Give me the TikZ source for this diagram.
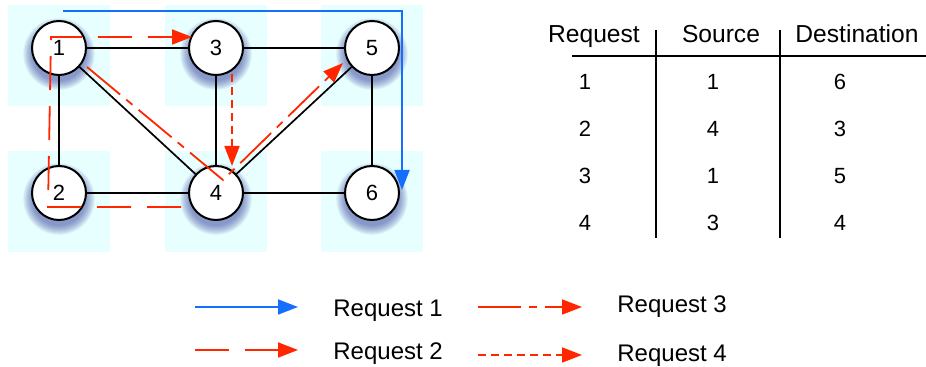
\documentclass[tikz,border=0pt]{standalone}
\usepackage{fontspec}
\setmainfont{Liberation Sans}
\usetikzlibrary{arrows.meta}
\usetikzlibrary{calc}

\definecolor{reqred}{RGB}{255,38,0}
\definecolor{reqblue}{RGB}{22,110,255}
\definecolor{cellcyan}{RGB}{232,255,255}
\definecolor{vshadow}{RGB}{40,50,150}

\begin{document}
\begin{tikzpicture}[x=0.5pt, y=-0.5pt,
    vertex/.style={circle, draw, line width=1pt, fill=white, minimum size=27pt, inner sep=0pt,
        font=\fontsize{11}{13}\selectfont},
    link/.style={line width=0.85pt},
    tip/.style={-{Triangle[length=10pt, width=7.5pt]}},
    req1/.style={tip, reqblue, line width=0.9pt},
    req2/.style={tip, reqred, line width=0.9pt, dash pattern=on 17pt off 8pt},
    req3/.style={tip, reqred, line width=0.9pt, dash pattern=on 21.5pt off 4pt on 4pt off 4pt},
    req4/.style={tip, reqred, line width=0.9pt, dash pattern=on 4pt off 2.5pt},
    head/.style={anchor=base, font=\fontsize{12.3}{14}\selectfont},
    cell/.style={anchor=base, font=\fontsize{11}{13}\selectfont},
    legend/.style={anchor=base west, inner sep=0pt, font=\fontsize{12}{14}\selectfont}]
\useasboundingbox (0,0) rectangle (926,367);

% pale squares behind the vertices
\foreach \x in {8,165,321}
  \foreach \y in {5,151}
    \fill[cellcyan] (\x,\y) rectangle ++(102,101);

% vertices, each with a soft shadow underneath
\foreach \n/\x/\y in {1/59/48, 3/216/48, 5/372/48, 2/59/193, 4/216/193, 6/372/193} {
  \foreach \k in {0,...,8}
    \fill[vshadow, opacity=0.07] (\x,\y+6) circle ({27+\k*1.1});
  \node[vertex] (n\n) at (\x,\y) {\n};
}

\foreach \a/\b in {n1/n3, n3/n5, n1/n2, n3/n4, n5/n6, n2/n4, n4/n6, n1/n4, n4/n5}
  \draw[link] (\a) -- (\b);

% routes of the four requests
\draw[req1] ($(n1)+(4,-37)$) -| ($(n6)+(30,-3)$);
\draw[req2] ($(n4)+(-35,14)$) -- ($(n2)+(-11,14)$) -- ($(n1)+(-8,-11)$) -- ($(n3)+(-24,-11)$);
\draw[req3] ($(n1)+(28,19)$) -- ($(n4)+(7,-13)$) -- ($(n5)+(-29,15)$);
\draw[req4] ($(n3)+(16,26)$) -- ($(n4)+(16,-27)$);

% table
\node[head] (hreq) at (594,43) {Request};
\node[head] (hsrc) at (721,43) {Source};
\node[head] (hdst) at (857,43) {Destination};
\draw[line width=1pt] (572,56) -- (926,56);
\draw[line width=1pt] (656,30) -- (656,238);
\draw[line width=1pt] (780,30) -- (780,238);
\foreach \r/\s/\d [count=\i] in {1/1/6, 2/4/3, 3/1/5, 4/3/4} {
  \node[cell] (req\i) at (585,43.3+46.7*\i) {\r};
  \node[cell] (src\i) at (713,43.3+46.7*\i) {\s};
  \node[cell] (dst\i) at (840,43.3+46.7*\i) {\d};
}

% legend
\coordinate (l1a) at (195,307); \coordinate (l1b) at (298,307);
\coordinate (l2a) at (195,350); \coordinate (l2b) at (298,350);
\coordinate (l3a) at (478,307); \coordinate (l3b) at (582,307);
\coordinate (l4a) at (478,355); \coordinate (l4b) at (582,355);
\draw[req1] (l1a) -- (l1b);
\draw[req2] (l2a) -- (l2b);
\draw[req3] (l3a) -- (l3b);
\draw[req4] (l4a) -- (l4b);
\node[legend] (t1) at (333,317) {Request 1};
\node[legend] (t2) at (333,360) {Request 2};
\node[legend] (t3) at (617,313) {Request 3};
\node[legend] (t4) at (617,362) {Request 4};
\end{tikzpicture}
\end{document}
